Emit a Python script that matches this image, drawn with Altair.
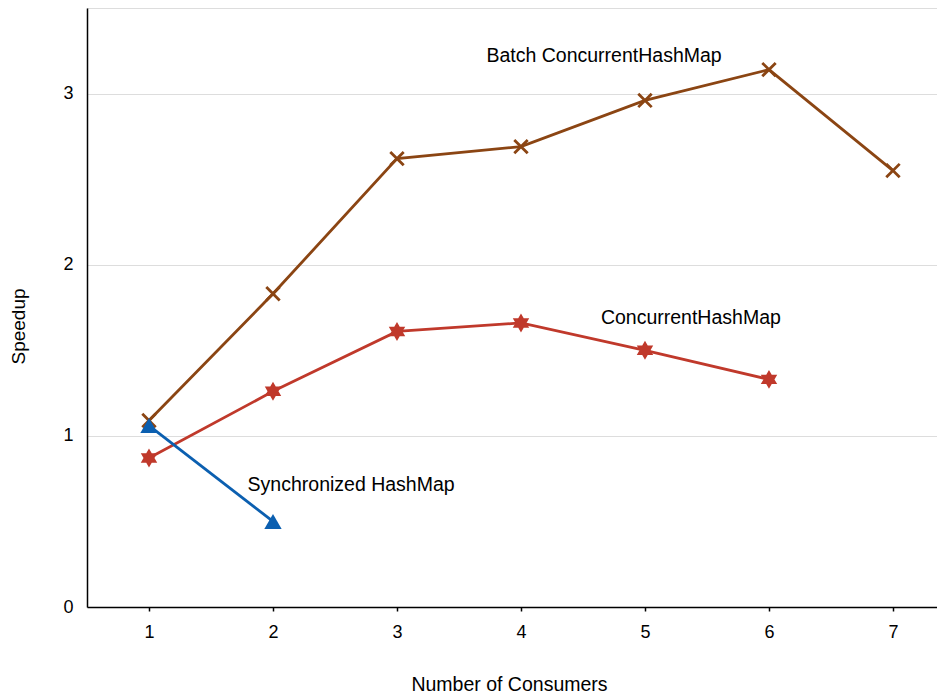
import altair as alt
import pandas as pd

consumers = [1, 2, 3, 4, 5, 6, 7]
batch_chm = [1.09, 1.83, 2.62, 2.69, 2.96, 3.14, 2.55]
chm = [0.87, 1.26, 1.61, 1.66, 1.50, 1.33]
sync_hm = [1.06, 0.50]

series_names = ["Batch ConcurrentHashMap", "ConcurrentHashMap", "Synchronized HashMap"]
series_colors = ["#8B4513", "#C0392B", "#0B5FB0"]

label_text = ["Batch ConcurrentHashMap", "ConcurrentHashMap", "Synchronized HashMap"]
label_x = [4.67, 5.37, 2.63]
label_y = [3.22, 1.69, 0.71]

y_grid_values = [0, 1, 2, 3, 3.5]

rows = []
for name, vals in zip(series_names, [batch_chm, chm, sync_hm]):
    for c, v in zip(consumers, vals):
        rows.append({"consumers": c, "speedup": v, "series": name})
df = pd.DataFrame(rows)
labels = pd.DataFrame({"text": label_text, "x": label_x, "y": label_y})

FONT = "Liberation Sans"
xscale = alt.Scale(domain=[0.5, 7.355], nice=False, zero=False)
yscale = alt.Scale(domain=[0, 3.5], nice=False)
cscale = alt.Scale(domain=series_names, range=series_colors)

base = alt.Chart(df)

lines = base.mark_line(strokeWidth=2.8).encode(
    x=alt.X("consumers:Q", scale=xscale,
            axis=alt.Axis(values=consumers, format="d", grid=False, title="Number of Consumers",
                          domainColor="black", domainWidth=1.5, tickColor="black",
                          tickSize=4, tickWidth=1.5, labelPadding=12,
                          labelFontSize=18, labelFont=FONT, labelColor="black",
                          titleFont=FONT, titleFontSize=19.5, titleFontWeight="normal",
                          titleColor="black", titleX=422, titleY=77,
                          titleBaseline="middle", titleAnchor="start", titleAlign="center")),
    y=alt.Y("speedup:Q", scale=yscale,
            axis=alt.Axis(values=y_grid_values, grid=True, gridColor="#dddddd", gridWidth=1,
                          labelExpr="datum.value == 3.5 ? '' : format(datum.value, 'd')",
                          labelOverlap=False, labelBound=False, labelFlush=False,
                          ticks=False, title="Speedup", domainColor="black", domainWidth=1.5,
                          labelPadding=14, labelFontSize=18, labelFont=FONT, labelColor="black",
                          titleFont=FONT, titleFontSize=19, titleFontWeight="normal",
                          titleColor="black", titleX=-69, titleY=318, titleAngle=-90,
                          titleBaseline="middle", titleAlign="center", titleAnchor="start")),
    color=alt.Color("series:N", scale=cscale, legend=None),
    detail="series:N",
)

xpath = "M-1,-1L1,1M-1,1L1,-1"
hexagram = ("M0,-1L0.2887,-0.5L0.866,-0.5L0.577,0L0.866,0.5L0.2887,0.5L0,1"
            "L-0.2887,0.5L-0.866,0.5L-0.577,0L-0.866,-0.5L-0.2887,-0.5Z")

pts_batch = base.transform_filter(alt.datum.series == series_names[0]).mark_point(
    shape=xpath, filled=False, strokeWidth=2.8, size=180, color=series_colors[0], opacity=1
).encode(x=alt.X("consumers:Q", scale=xscale), y=alt.Y("speedup:Q", scale=yscale))

pts_chm = base.transform_filter(alt.datum.series == series_names[1]).mark_point(
    shape=hexagram, filled=True, size=360, color=series_colors[1], opacity=1
).encode(x=alt.X("consumers:Q", scale=xscale), y=alt.Y("speedup:Q", scale=yscale))

pts_sync = base.transform_filter(alt.datum.series == series_names[2]).mark_point(
    shape="triangle-up", filled=True, size=300, color=series_colors[2], opacity=1
).encode(x=alt.X("consumers:Q", scale=xscale), y=alt.Y("speedup:Q", scale=yscale))

texts = alt.Chart(labels).mark_text(font=FONT, fontSize=19.5, color="black", align="center",
                                    baseline="middle").encode(
    x=alt.X("x:Q", scale=xscale), y=alt.Y("y:Q", scale=yscale), text="text:N")

chart = alt.layer(lines, pts_batch, pts_chm, pts_sync, texts).properties(
    width=850, height=599,
    autosize=alt.AutoSizeParams(type="none"),
    padding={"left": 79, "top": 0, "right": 0, "bottom": 86},
).configure_view(stroke=None).configure(background="white")

chart.save("out.html", embed_options={"renderer": "svg", "actions": False})
